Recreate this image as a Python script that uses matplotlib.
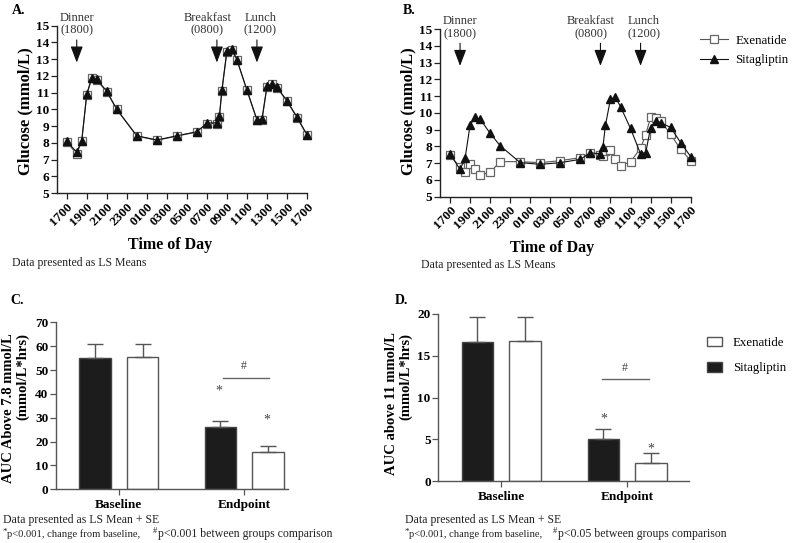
import matplotlib
matplotlib.use('Agg')
import matplotlib.pyplot as plt
import numpy as np
from matplotlib.lines import Line2D
from matplotlib.patches import Patch

plt.rcParams['font.family'] = ['Liberation Serif', 'DejaVu Serif']

# time points, hours after 1700
hours = [0, 1, 1.5, 2, 2.5, 3, 4, 5, 7, 9, 11, 13, 14, 15, 15.25, 15.5,
         16, 16.5, 17, 18, 19, 19.5, 20, 20.5, 21, 22, 23, 24]
tick_hours = list(range(0, 25, 2))
tick_labels = ['1700', '1900', '2100', '2300', '0100', '0300', '0500',
               '0700', '0900', '1100', '1300', '1500', '1700']

# panel A (baseline), glucose mmol/L
a_exe = [8.05, 7.33, 8.1, 10.88, 11.85, 11.75, 11.05, 10.0, 8.4, 8.15, 8.4, 8.65, 9.15, 9.15,
         9.55, 11.1, 13.45, 13.55, 12.95, 11.15, 9.35, 9.35, 11.35, 11.5, 11.3, 10.5, 9.5, 8.45]
a_sit = [8.08, 7.45, 8.12, 10.9, 11.88, 11.8, 11.08, 10.0, 8.42, 8.17, 8.42, 8.66, 9.18, 9.2,
         9.6, 11.15, 13.5, 13.6, 12.97, 11.15, 9.38, 9.4, 11.38, 11.52, 11.33, 10.5, 9.55, 8.48]

# panel B (endpoint)
b_exe = [7.49, 6.75, 6.45, 6.95, 6.65, 6.3, 6.45, 7.09, 7.09, 7.03, 7.15, 7.33, 7.62, 7.5,
         7.4, 7.7, 7.8, 7.23, 6.83, 7.09, 7.88, 8.68, 9.73, 9.67, 9.53, 8.72, 7.82, 7.15]
b_sit = [7.55, 6.63, 7.29, 9.27, 9.73, 9.63, 8.78, 8.04, 7.03, 6.93, 7.03, 7.23, 7.62, 7.55,
         7.98, 9.27, 10.82, 10.92, 10.37, 9.07, 7.55, 7.58, 9.12, 9.53, 9.41, 9.13, 8.22, 7.39]

meals = ['Dinner\n(1800)', 'Breakfast\n(0800)', 'Lunch\n(1200)']
meal_hours = [1, 15, 19]
meal_text_x = [1, 14.05, 19.35]

# AUC panels
groups = ['Baseline', 'Endpoint']
c_sit = [55.2, 26.0]
c_sit_se = [5.6, 2.6]
c_exe = [55.4, 15.6]
c_exe_se = [5.7, 2.6]
d_sit = [16.7, 5.05]
d_sit_se = [2.95, 1.15]
d_exe = [16.8, 2.2]
d_exe_se = [2.9, 1.15]

W, H = 792, 543
fig = plt.figure(figsize=(W / 100, H / 100), dpi=100)


def box(l, t, r, b):
    return [l / W, 1 - b / H, (r - l) / W, (b - t) / H]


def ftext(x, y, s, **kw):
    fig.text(x / W, 1 - y / H, s, **kw)


def style_axes(ax, col, size):
    for s in ['top', 'right']:
        ax.spines[s].set_visible(False)
    for s in ['left', 'bottom']:
        ax.spines[s].set_color(col)
        ax.spines[s].set_linewidth(1.0)
    ax.tick_params(direction='out', length=4, width=0.9, color=col, labelsize=size, pad=1.5)
    for lab in ax.get_yticklabels():
        lab.set_fontweight('bold')


def glucose_panel(ax, exe, sit):
    ax.plot(hours, exe, color='#555', lw=0.8, marker='s', ms=5.8, mfc='white',
            mec='#666', mew=0.9, clip_on=False)
    ax.plot(hours, sit, color='#111', lw=0.8, marker='^', ms=6, mfc='#111',
            mec='#111', clip_on=False)
    ax.set_xlim(-1, 24)
    ax.set_ylim(5, 15)
    ax.set_yticks(range(5, 16))
    ax.set_xticks(tick_hours)
    ax.set_xticklabels(tick_labels, rotation=45, ha='right', rotation_mode='anchor',
                       fontweight='bold')
    style_axes(ax, '#222', 9.5)
    for name, h, tx in zip(meals, meal_hours, meal_text_x):
        ax.annotate('', xy=(h, 12.8), xytext=(h, 14.15),
                    arrowprops=dict(arrowstyle='-|>,head_length=1.0,head_width=0.38',
                                    mutation_scale=10, color='#111', lw=0.8,
                                    shrinkA=0, shrinkB=0), annotation_clip=False)
        ax.text(tx, 14.35, name, ha='center', va='bottom', fontsize=9, color='#333',
                clip_on=False, linespacing=1.1)


def auc_panel(ax, sit, sit_se, exe, exe_se, ymax, step, xmax):
    x = np.arange(len(groups))
    ax.bar(x - 0.19, sit, 0.25, color='#1c1c1c', edgecolor='#444', lw=1)
    ax.bar(x + 0.19, exe, 0.25, color='white', edgecolor='#555', lw=1)
    ax.errorbar(x - 0.19, sit, yerr=[[0, 0], sit_se], fmt='none', ecolor='#555',
                elinewidth=1, capsize=6, capthick=1)
    ax.errorbar(x + 0.19, exe, yerr=[[0, 0], exe_se], fmt='none', ecolor='#555',
                elinewidth=1, capsize=6, capthick=1)
    ax.set_xlim(-0.5, xmax)
    ax.set_ylim(0, ymax)
    ax.set_yticks(np.arange(0, ymax + 1, step))
    ax.set_xticks(x)
    ax.set_xticklabels(groups, fontweight='bold', fontsize=10.5)
    style_axes(ax, '#555', 9.5)
    ax.tick_params(axis='x', pad=3)


# A
axA = fig.add_axes(box(56.7, 25.7, 307, 193))
glucose_panel(axA, a_exe, a_sit)
ftext(12, 10, 'A.', fontsize=10, fontweight='bold', va='center')
ftext(25, 111, 'Glucose (mmol/L)', rotation=90, fontsize=12, fontweight='bold',
      ha='center', va='center')
ftext(170, 245, 'Time of Day', fontsize=11.5, fontweight='bold', ha='center', va='center')
ftext(12, 263, 'Data presented as LS Means', fontsize=8.5, va='center', color='#222')

# B
axB = fig.add_axes(box(440, 29, 690.7, 196.7))
glucose_panel(axB, b_exe, b_sit)
ftext(403, 10, 'B.', fontsize=10, fontweight='bold', va='center')
ftext(408, 111, 'Glucose (mmol/L)', rotation=90, fontsize=12, fontweight='bold',
      ha='center', va='center')
ftext(552, 248, 'Time of Day', fontsize=11.5, fontweight='bold', ha='center', va='center')
ftext(421, 265, 'Data presented as LS Means', fontsize=8.5, va='center', color='#222')
line_handles = [
    Line2D([], [], color='#555', lw=0.8, marker='s', ms=5.8, mfc='white', mec='#666', mew=0.9),
    Line2D([], [], color='#111', lw=0.8, marker='^', ms=6, mfc='#111', mec='#111'),
]
fig.legend(line_handles, ['Exenatide', 'Sitagliptin'], loc='center left',
           bbox_to_anchor=(700 / W, 1 - 50.5 / H), frameon=False, fontsize=9.3,
           handlelength=2.2, handletextpad=0.55, labelspacing=0.6, borderpad=0,
           borderaxespad=0)

# C
axC = fig.add_axes(box(56, 322.3, 288, 489.3))
auc_panel(axC, c_sit, c_sit_se, c_exe, c_exe_se, 70, 10, 1.35)
axC.plot([0.83, 1.2], [46.8, 46.8], color='#666', lw=1)
axC.text(1.0, 49, '#', ha='center', va='bottom', fontsize=8.5, color='#444')
axC.text(0.80, 38.5, '*', ha='center', va='bottom', fontsize=10, color='#444')
axC.text(1.18, 26.5, '*', ha='center', va='bottom', fontsize=10, color='#444')
ftext(10, 300, 'C.', fontsize=10, fontweight='bold', va='center')
ftext(16, 408, 'AUC Above 7.8 mmol/L\n(mmol/L*hrs)', rotation=90, fontsize=10.5,
      fontweight='bold', ha='center', va='center', multialignment='right', linespacing=1.1)
ftext(3, 520, 'Data presented as LS Mean + SE', fontsize=8.5, va='center', color='#222')
ftext(3, 531.5, '*', fontsize=6.5, va='center', color='#222')
ftext(7, 534.5, 'p<0.001, change from baseline,', fontsize=7.6, va='center', color='#222')
ftext(153, 531, '#', fontsize=6, va='center', color='#222')
ftext(158, 534.5, 'p<0.001 between groups comparison', fontsize=8.5, va='center', color='#222')

# D
axD = fig.add_axes(box(438.3, 314, 689, 481))
auc_panel(axD, d_sit, d_sit_se, d_exe, d_exe_se, 20, 5, 1.49)
axD.plot([0.80, 1.17], [12.2, 12.2], color='#666', lw=1)
axD.text(0.98, 12.8, '#', ha='center', va='bottom', fontsize=8.5, color='#444')
axD.text(0.81, 6.7, '*', ha='center', va='bottom', fontsize=10, color='#444')
axD.text(1.19, 3.0, '*', ha='center', va='bottom', fontsize=10, color='#444')
ftext(395, 300, 'D.', fontsize=10, fontweight='bold', va='center')
ftext(399, 404, 'AUC above 11 mmol/L\n(mmol/L*hrs)', rotation=90, fontsize=10.5,
      fontweight='bold', ha='center', va='center', multialignment='right', linespacing=1.1)
ftext(405, 520, 'Data presented as LS Mean + SE', fontsize=8.5, va='center', color='#222')
ftext(405, 531.5, '*', fontsize=6.5, va='center', color='#222')
ftext(409, 534.5, 'p<0.001, change from baseline,', fontsize=7.6, va='center', color='#222')
ftext(553, 531, '#', fontsize=6, va='center', color='#222')
ftext(558, 534.5, 'p<0.05 between groups comparison', fontsize=8.5, va='center', color='#222')
patch_handles = [Patch(facecolor='white', edgecolor='#555', lw=1),
                 Patch(facecolor='#1c1c1c', edgecolor='#444', lw=1)]
fig.legend(patch_handles, ['Exenatide', 'Sitagliptin'], loc='center left',
           bbox_to_anchor=(707 / W, 1 - 355.5 / H), frameon=False, fontsize=9.3,
           handlelength=1.15, handleheight=0.8, handletextpad=0.85, labelspacing=1.0,
           borderpad=0, borderaxespad=0)

fig.savefig('out.png', dpi=100)
